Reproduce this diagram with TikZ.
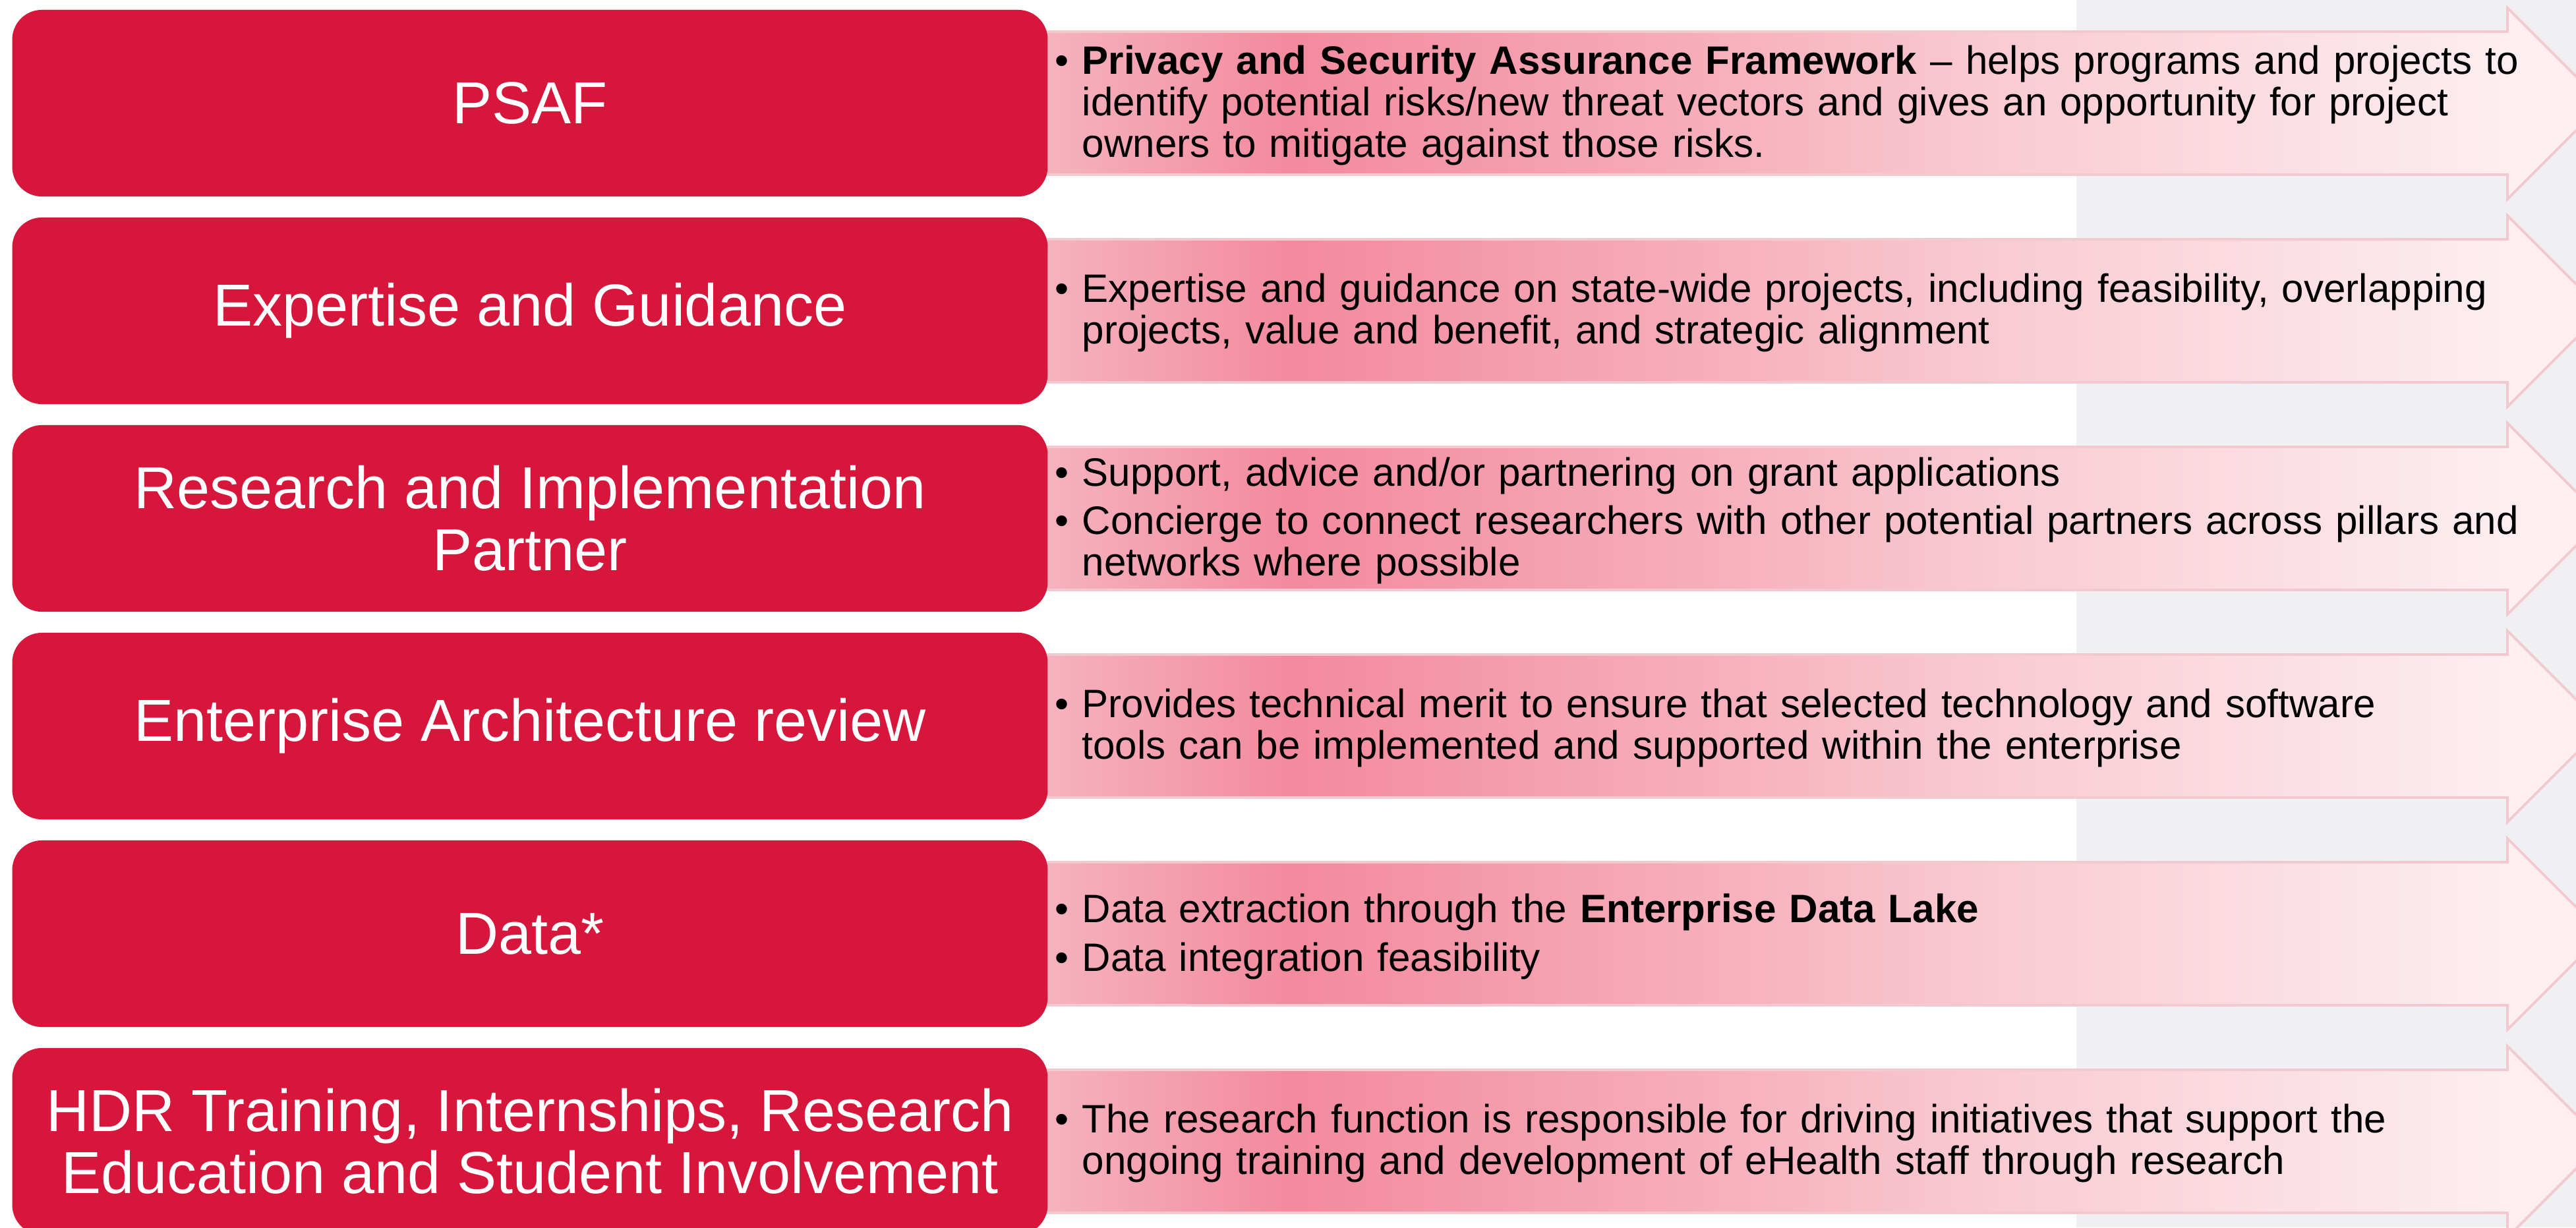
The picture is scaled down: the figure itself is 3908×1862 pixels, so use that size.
\documentclass[tikz,border=0pt]{standalone}
\usepackage{fontspec}
\setmainfont{Liberation Sans}
\usetikzlibrary{calc}
\definecolor{catred}{HTML}{D7163C}
\definecolor{bandA}{HTML}{F5B3BF}
\definecolor{bandB}{HTML}{F38A9D}
\definecolor{bandC}{HTML}{F6A9B7}
\definecolor{bandD}{HTML}{F9CBD3}
\definecolor{bandE}{HTML}{FDEEF1}
\definecolor{bandline}{HTML}{F2C9CF}
\definecolor{sidegray}{HTML}{F0F0F3}
\pgfdeclarehorizontalshading{bandshade}{100bp}{color(0bp)=(bandA); color(26bp)=(bandA); color(33.7bp)=(bandB); color(45bp)=(bandC); color(56bp)=(bandD); color(72bp)=(bandE); color(100bp)=(bandE)}
\newcommand{\bandarrow}[1]{\shadedraw[band] (1540, 48+315*#1) -- (3804, 48+315*#1) -- (3804, 12+315*#1) -- (3949, 157+315*#1) -- (3804, 302+315*#1) -- (3804, 265+315*#1) -- (1540, 265+315*#1) -- cycle;}
\newcommand{\bul}{\par\hangindent=0.41cm\hangafter=1\noindent\makebox[0.41cm][l]{\textbullet}}
\newcommand{\bulgap}{\par\vspace{3pt}}
\begin{document}
\begin{tikzpicture}[x=0.01cm, y=-0.01cm,
    catbox/.style={rectangle, rounded corners=0.45cm, fill=catred, text=white, inner sep=0pt, minimum width=15.7cm, minimum height=2.83cm, align=center, font=\fontsize{25.6}{26.8}\selectfont},
    infotext/.style={anchor=west, inner sep=0pt, text width=23cm, align=left, font=\fontsize{17.1}{17.9}\selectfont},
    band/.style={shading=bandshade, draw=bandline, line width=1.1pt}]
    \useasboundingbox (0,0) rectangle (3908,1862);
    \clip (0,0) rectangle (3908,1862);
    % background
    \fill[white] (0,0) rectangle (3908,1862);
    \fill[sidegray] (3150,0) rectangle (3908,1862);
    % arrows
    \foreach \r in {0,...,5} {\bandarrow{\r}}
    % left boxes
    \node[catbox] (psaf) at (804,156.5) {PSAF};
    \node[catbox] (guide) at (804,471.5) {Expertise and Guidance};
    \node[catbox] (partner) at (804,786.5) {Research and Implementation\\Partner};
    \node[catbox] (archrev) at (804,1101.5) {Enterprise Architecture review};
    \node[catbox] (data) at (804,1416.5) {Data*};
    \node[catbox] (hdr) at (804,1731.5) {HDR Training, Internships, Research\\Education and Student Involvement};
    % descriptions
    \node[infotext] (psafinfo) at (1600,150) {\bul\textbf{Privacy and Security Assurance Framework} -- helps programs and projects to\newline identify potential risks/new threat vectors and gives an opportunity for project\newline owners to mitigate against those risks.\par};
    \node[infotext] (guideinfo) at (1600,465) {\bul Expertise and guidance on state-wide projects, including feasibility, overlapping\newline projects, value and benefit, and strategic alignment\par};
    \node[infotext] (partnerinfo) at (1600,780) {\bul Support, advice and/or partnering on grant applications\bulgap
      \bul Concierge to connect researchers with other potential partners across pillars and\newline networks where possible\par};
    \node[infotext] (archinfo) at (1600,1095) {\bul Provides technical merit to ensure that selected technology and software\newline tools can be implemented and supported within the enterprise\par};
    \node[infotext] (datainfo) at (1600,1411) {\bul Data extraction through the \textbf{Enterprise Data Lake}\bulgap
      \bul Data integration feasibility\par};
    \node[infotext] (hdrinfo) at (1600,1725) {\bul The research function is responsible for driving initiatives that support the\newline ongoing training and development of eHealth staff through research\par};
\end{tikzpicture}
\end{document}
